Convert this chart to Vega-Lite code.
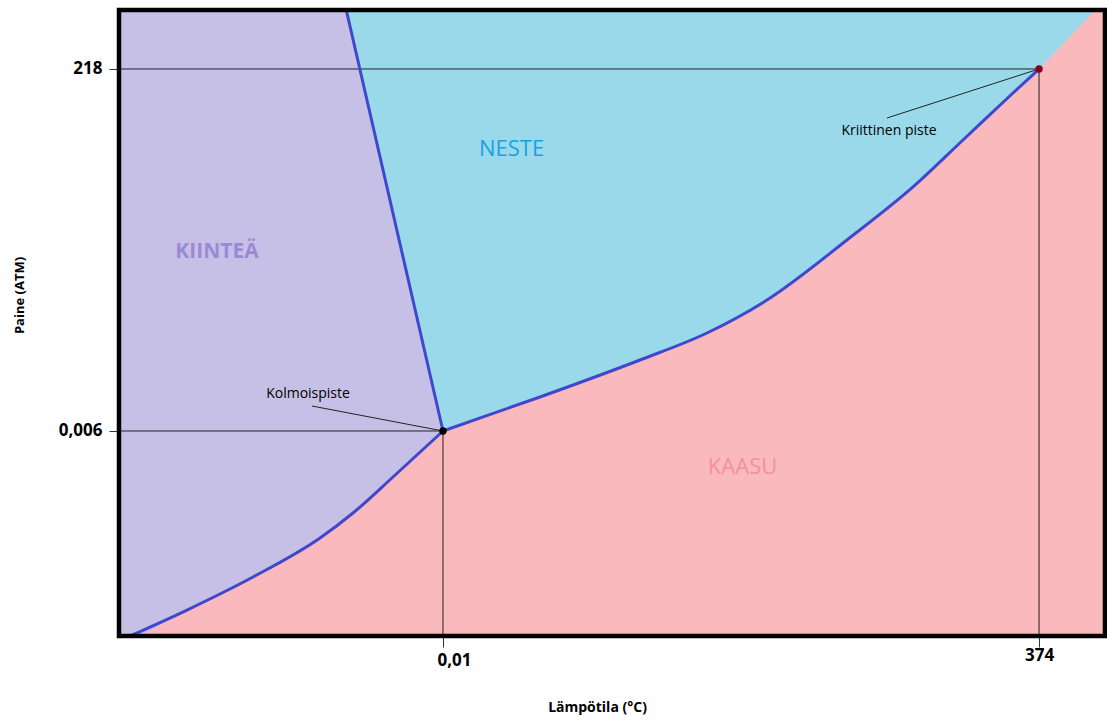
{
  "$schema": "https://vega.github.io/schema/vega-lite/v6.json",
  "width": 986,
  "height": 626,
  "autosize": "none",
  "padding": {"left": 119, "top": 10, "right": 2, "bottom": 84},
  "background": "white",
  "config": {"view": {"stroke": null, "fill": "#fab9bd"}, "font": "Open Sans"},
  "datasets": {
    "curves": [
      {"curve": "edge", "x": 0, "y": 0},
      {"curve": "subl", "x": 1.12, "y": 0},
      {"curve": "subl", "x": 6.9, "y": 4.15},
      {"curve": "subl", "x": 13.59, "y": 9.42},
      {"curve": "subl", "x": 20.39, "y": 15.65},
      {"curve": "subl", "x": 23.73, "y": 19.65},
      {"curve": "subl", "x": 27.79, "y": 25.4},
      {"curve": "subl", "x": 32.86, "y": 32.75},
      {"curve": "melt", "x": 23.05, "y": 100},
      {"curve": "melt", "x": 32.86, "y": 32.75},
      {"curve": "vap", "x": 32.86, "y": 32.75},
      {"curve": "vap", "x": 42.7, "y": 38.18},
      {"curve": "vap", "x": 52.84, "y": 44.09},
      {"curve": "vap", "x": 59.63, "y": 48.4},
      {"curve": "vap", "x": 65.72, "y": 53.67},
      {"curve": "vap", "x": 73.83, "y": 63.26},
      {"curve": "vap", "x": 80.53, "y": 71.73},
      {"curve": "vap", "x": 85.6, "y": 79.23},
      {"curve": "vap", "x": 90.67, "y": 86.74},
      {"curve": "vap", "x": 93.31, "y": 90.58},
      {"curve": "ext", "x": 99.0, "y": 100}
    ],
    "rules": [
      {"x": 0, "x2": 93.31, "y": 90.58, "y2": 90.58},
      {"x": 93.31, "x2": 93.31, "y": 0, "y2": 90.58},
      {"x": 0, "x2": 32.86, "y": 32.75, "y2": 32.75},
      {"x": 32.86, "x2": 32.86, "y": 0, "y2": 32.75},
      {"x": 19.57, "x2": 32.86, "y": 36.74, "y2": 32.75},
      {"x": 77.89, "x2": 93.31, "y": 82.75, "y2": 90.58}
    ],
    "points": [
      {"piste": "Kolmoispiste", "x": 32.86, "y": 32.75},
      {"piste": "Kriittinen piste", "x": 93.31, "y": 90.58}
    ],
    "notes": [
      {"label": "Kolmoispiste", "x": 19.17, "y": 38.66},
      {"label": "Kriittinen piste", "x": 78.09, "y": 80.67}
    ],
    "regions": [
      {"label": "KIINTEÄ", "x": 9.94, "y": 61.34},
      {"label": "NESTE", "x": 39.81, "y": 77.8},
      {"label": "KAASU", "x": 63.24, "y": 26.92}
    ]
  },
  "layer": [
    {
      "data": {"name": "curves"},
      "transform": [{"filter": "datum.curve === 'edge' || datum.curve === 'subl'"}],
      "mark": {"type": "area", "color": "#c7c0e6", "interpolate": "monotone"},
      "encoding": {
        "x": {
          "field": "x", "type": "quantitative",
          "scale": {"domain": [0, 100], "nice": false, "zero": false},
          "axis": {
            "title": "Lämpötila (°C)",
            "values": [32.86, 93.31],
            "labelExpr": "datum.value < 50 ? '0,01' : '374'",
            "domain": false, "grid": false,
            "tickSize": 11, "tickColor": "#333333", "tickWidth": 1,
            "labelFontSize": 17, "labelFontWeight": "bold", "labelColor": "#000000",
            "labelPadding": {"condition": {"test": "datum.value < 50", "value": 5}, "value": 0},
            "labelOffset": {"condition": {"test": "datum.value < 50", "value": 11}, "value": 0},
            "titleFontSize": 14, "titleFontWeight": "bold", "titleColor": "#000000",
            "titleX": 478, "titleY": 71, "titleBaseline": "middle", "titleAlign": "center"
          }
        },
        "y": {
          "field": "y", "type": "quantitative",
          "scale": {"domain": [0, 100], "nice": false, "zero": false},
          "axis": {
            "title": "Paine (ATM)",
            "values": [32.75, 90.58],
            "labelExpr": "datum.value < 50 ? '0,006' : '218'",
            "domain": false, "grid": false,
            "tickSize": 10, "tickColor": "#333333", "tickWidth": 1,
            "labelFontSize": 17, "labelFontWeight": "bold", "labelColor": "#000000",
            "labelPadding": 7,
            "titleFontSize": 13, "titleFontWeight": "bold", "titleColor": "#000000",
            "titleAngle": -90, "titleX": -100, "titleY": 285, "titleBaseline": "middle", "titleAlign": "center"
          }
        },
        "y2": {"datum": 100}
      }
    },
    {
      "data": {"name": "curves"},
      "transform": [{"filter": "datum.curve === 'melt' || (datum.curve === 'vap' && (datum.x < 33 || datum.x > 93)) || datum.curve === 'ext'"}],
      "mark": {"type": "area", "color": "#99d9ea", "interpolate": "linear"},
      "encoding": {
        "x": {"field": "x", "type": "quantitative"},
        "y": {"field": "y", "type": "quantitative"},
        "y2": {"datum": 100}
      }
    },
    {
      "data": {"name": "curves"},
      "transform": [{"filter": "datum.curve === 'vap'"}],
      "mark": {"type": "area", "color": "#99d9ea", "interpolate": "monotone"},
      "encoding": {
        "x": {"field": "x", "type": "quantitative"},
        "y": {"field": "y", "type": "quantitative"},
        "y2": {"datum": 100}
      }
    },
    {
      "data": {"name": "rules"},
      "mark": {"type": "rule", "color": "#222222", "strokeWidth": 1},
      "encoding": {
        "x": {"field": "x", "type": "quantitative"},
        "x2": {"field": "x2"},
        "y": {"field": "y", "type": "quantitative"},
        "y2": {"field": "y2"}
      }
    },
    {
      "data": {"name": "curves"},
      "transform": [{"filter": "datum.curve === 'subl' || datum.curve === 'melt' || datum.curve === 'vap'"}],
      "mark": {"type": "line", "color": "#3f48cc", "strokeWidth": 3, "strokeCap": "round", "strokeJoin": "round", "interpolate": "monotone"},
      "encoding": {
        "x": {"field": "x", "type": "quantitative"},
        "y": {"field": "y", "type": "quantitative"},
        "detail": {"field": "curve"}
      }
    },
    {
      "data": {"values": [{}]},
      "mark": {"type": "rect", "fillOpacity": 0, "stroke": "#000000", "strokeWidth": 4.5},
      "encoding": {
        "x": {"datum": 0, "type": "quantitative"},
        "x2": {"datum": 100},
        "y": {"datum": 0, "type": "quantitative"},
        "y2": {"datum": 100}
      }
    },
    {
      "data": {"name": "points"},
      "mark": {"type": "point", "filled": true, "opacity": 1, "size": 55},
      "encoding": {
        "x": {"field": "x", "type": "quantitative"},
        "y": {"field": "y", "type": "quantitative"},
        "color": {"field": "piste", "type": "nominal", "legend": null,
          "scale": {"domain": ["Kolmoispiste", "Kriittinen piste"], "range": ["#000000", "#88001b"]}}
      }
    },
    {
      "data": {"name": "notes"},
      "mark": {"type": "text", "fontSize": 14, "color": "#000000", "align": "center", "baseline": "middle"},
      "encoding": {
        "x": {"field": "x", "type": "quantitative"},
        "y": {"field": "y", "type": "quantitative"},
        "text": {"field": "label"}
      }
    },
    {
      "data": {"name": "regions"},
      "transform": [{"filter": "datum.label === 'KIINTEÄ'"}],
      "mark": {"type": "text", "fontSize": 21, "fontWeight": "bold", "color": "#9a8ad6", "align": "center", "baseline": "middle"},
      "encoding": {
        "x": {"field": "x", "type": "quantitative"},
        "y": {"field": "y", "type": "quantitative"},
        "text": {"field": "label"}
      }
    },
    {
      "data": {"name": "regions"},
      "transform": [{"filter": "datum.label === 'NESTE'"}],
      "mark": {"type": "text", "fontSize": 22, "color": "#18a2e6", "align": "center", "baseline": "middle"},
      "encoding": {
        "x": {"field": "x", "type": "quantitative"},
        "y": {"field": "y", "type": "quantitative"},
        "text": {"field": "label"}
      }
    },
    {
      "data": {"name": "regions"},
      "transform": [{"filter": "datum.label === 'KAASU'"}],
      "mark": {"type": "text", "fontSize": 22, "color": "#f3919b", "align": "center", "baseline": "middle"},
      "encoding": {
        "x": {"field": "x", "type": "quantitative"},
        "y": {"field": "y", "type": "quantitative"},
        "text": {"field": "label"}
      }
    }
  ]
}
